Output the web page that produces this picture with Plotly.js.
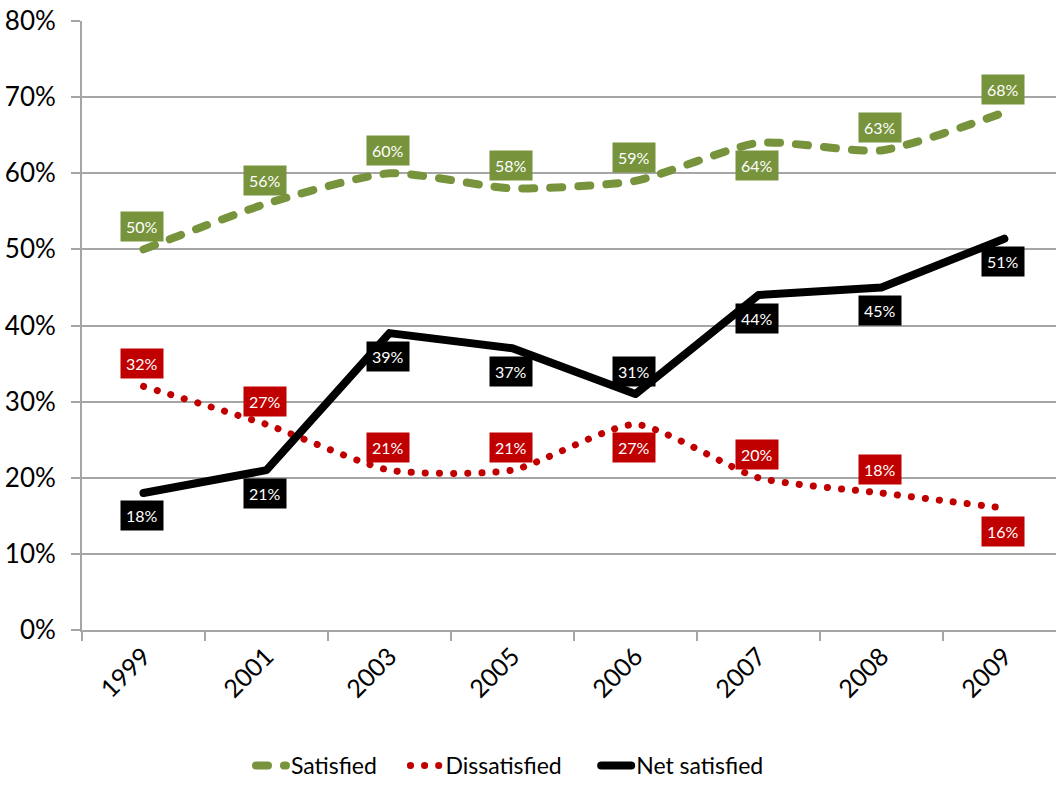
<!DOCTYPE html>
<html>
<head>
<meta charset="utf-8">
<script src="https://cdn.plot.ly/plotly-3.0.1.min.js"></script>
<style>
html,body{margin:0;padding:0;background:#fff;}
#chart{width:1056px;height:787px;}
#chart .js-line{stroke-linecap:round !important;stroke-linejoin:round !important;}
</style>
</head>
<body>
<div id="chart"></div>
<script>
// Data
const years = ['1999','2001','2003','2005','2006','2007','2008','2009'];
const satisfied = [50, 56, 60, 58, 59, 64, 63, 68];
const dissatisfied = [32, 27, 21, 21, 27, 20, 18, 16];
const netSatisfied = [18, 21, 39, 37, 31, 44, 45, 51.4];
const seriesNames = ['Satisfied', 'Dissatisfied', 'Net satisfied'];
// label placement: 1 = above, -1 = below
const satPos = [1, 1, 1, 1, 1, -1, 1, 1];
const disPos = [1, 1, 1, 1, -1, 1, 1, -1];
const netPos = [-1, -1, -1, -1, 1, -1, -1, -1];

const GREEN = '#77933C', RED = '#C00000', BLACK = '#000000';
const FONT = 'Lato, sans-serif';
const PAD = '\u00a0\u00a0\u00a0\u00a0';

const traces = [
  {x: years, y: satisfied, name: seriesNames[0] + PAD, mode: 'lines',
   line: {color: GREEN, width: 8, dash: '12px,16px', shape: 'spline', smoothing: 0.6}},
  {x: years, y: dissatisfied, name: seriesNames[1] + PAD + '\u00a0', mode: 'lines',
   line: {color: RED, width: 7, dash: '0.1px,14px', shape: 'spline', smoothing: 0.6}},
  {x: years, y: netSatisfied, name: seriesNames[2], mode: 'lines',
   line: {color: BLACK, width: 8, shape: 'linear'}}
];

function labels(vals, pos, color) {
  return vals.map((v, i) => ({
    x: i, y: v, xref: 'x', yref: 'y',
    text: Math.round(v) + '%', showarrow: false,
    bgcolor: color, borderpad: 5,
    font: {color: '#ffffff', size: 16, family: FONT},
    xshift: -1, yshift: pos[i] * 23
  }));
}

const annotations = [].concat(
  labels(satisfied, satPos, GREEN),
  labels(dissatisfied, disPos, RED),
  labels(netSatisfied, netPos, BLACK)
);

const layout = {
  width: 1056, height: 787,
  margin: {l: 82, r: 0, t: 21, b: 157},
  paper_bgcolor: '#ffffff', plot_bgcolor: '#ffffff',
  font: {family: FONT, color: '#000000'},
  showlegend: true,
  legend: {orientation: 'h', x: 0.4394, xanchor: 'center', y: -0.2578, yanchor: 'bottom',
           font: {size: 23, family: FONT}, itemwidth: 30, tracegroupgap: 0},
  xaxis: {type: 'category', range: [-0.5, 7.42], showgrid: false,
          showline: true, linecolor: '#A6A6A6', linewidth: 2,
          ticks: 'outside', tickson: 'boundaries', ticklen: 9, tickcolor: '#A6A6A6', tickwidth: 2,
          tickangle: -45, tickfont: {size: 25, family: FONT}, zeroline: false},
  yaxis: {range: [0, 80], dtick: 10, ticksuffix: '%', showgrid: true,
          gridcolor: '#A6A6A6', gridwidth: 2,
          showline: true, linecolor: '#A6A6A6', linewidth: 2,
          ticks: 'outside', ticklen: 9, tickcolor: '#A6A6A6', tickwidth: 2,
          ticklabelstandoff: 10,
          tickfont: {size: 26, family: FONT}, zeroline: false, fixedrange: true},
  annotations: annotations
};

Plotly.newPlot('chart', traces, layout, {displayModeBar: false, staticPlot: true});
</script>
</body>
</html>
